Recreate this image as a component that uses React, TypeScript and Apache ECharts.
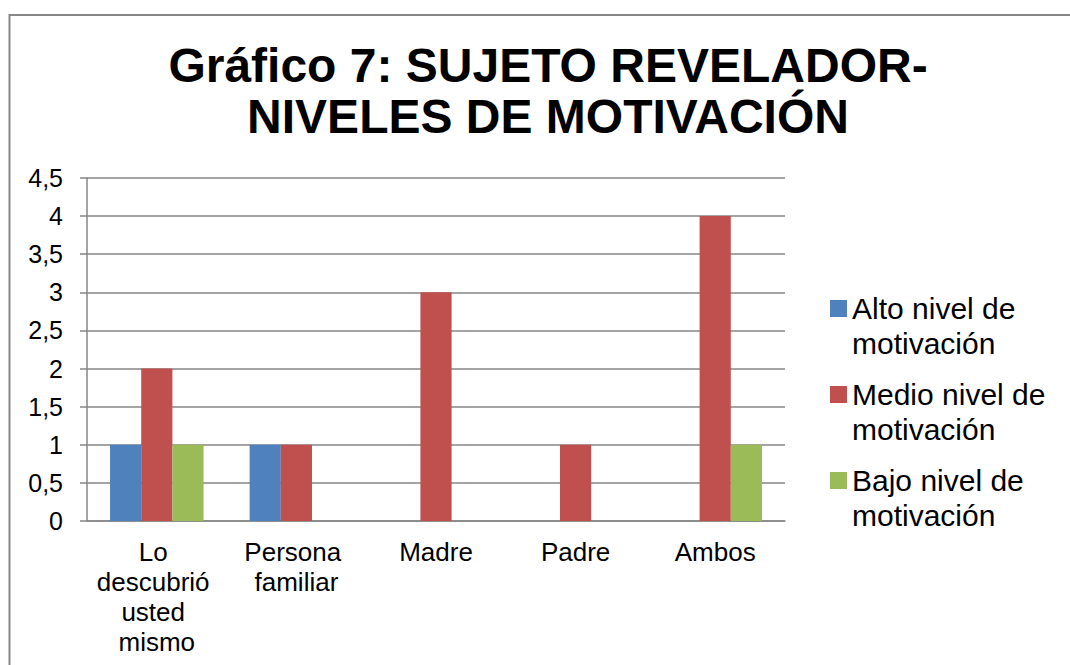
import React, { useEffect, useRef } from "react";
import * as echarts from "echarts";

const titleLines = ["Gráfico 7: SUJETO REVELADOR-", "NIVELES DE MOTIVACIÓN"];
const categories = ["Lo descubrió usted mismo", "Persona familiar", "Madre", "Padre", "Ambos"];
const seriesNames = ["Alto nivel de\nmotivación", "Medio nivel de\nmotivación", "Bajo nivel de\nmotivación"];
const altoValues = [1, 1, 0, 0, 0];
const medioValues = [2, 1, 3, 1, 4];
const bajoValues = [1, 0, 0, 0, 1];
const colors = ["#4F81BD", "#C0504D", "#9BBB59"];

const FONT = "'Liberation Sans', Arial, sans-serif";
const GRID_COLOR = "#868686";

export default function App() {
  const ref = useRef<HTMLDivElement>(null);
  useEffect(() => {
    document.body.style.margin = "0";
    const chart = echarts.init(ref.current!, undefined, { renderer: "svg" });
    const seriesData = [altoValues, medioValues, bajoValues];
    chart.setOption({
      animation: false,
      backgroundColor: "#ffffff",
      textStyle: { fontFamily: FONT },
      title: {
        text: titleLines.join("\n"),
        left: 548,
        top: 40,
        padding: 0,
        textAlign: "center",
        textStyle: {
          fontFamily: FONT,
          fontSize: 48,
          fontWeight: "bold",
          lineHeight: 51,
          color: "#000000",
        },
      },
      graphic: [
        {
          type: "rect",
          shape: { x: 9.5, y: 15, width: 1100, height: 700 },
          style: { fill: "none", stroke: "#878787", lineWidth: 2 },
          silent: true,
        },
      ],
      legend: {
        orient: "vertical",
        left: 830,
        top: 256,
        itemWidth: 17,
        itemHeight: 17,
        itemGap: -19,
        icon: "rect",
        padding: 0,
        formatter: (name: string) => "\n" + name,
        textStyle: {
          fontFamily: FONT,
          fontSize: 30,
          lineHeight: 35,
          color: "#000000",
        },
        data: seriesNames,
      },
      grid: { left: 87, right: 285, top: 178, bottom: 144, containLabel: false },
      xAxis: {
        type: "category",
        data: categories,
        axisLine: { show: true, lineStyle: { color: GRID_COLOR, width: 1.5 } },
        axisTick: { show: false },
        axisLabel: {
          interval: 0,
          color: "#000000",
          fontFamily: FONT,
          fontSize: 26,
          lineHeight: 30,
          margin: 16,
          width: 132,
          overflow: "break",
        },
      },
      yAxis: {
        type: "value",
        min: 0,
        max: 4.5,
        interval: 0.5,
        axisLine: { show: true, lineStyle: { color: GRID_COLOR, width: 1.5 } },
        axisTick: { show: true, length: 7, lineStyle: { color: GRID_COLOR, width: 1.5 } },
        splitLine: { show: true, lineStyle: { color: GRID_COLOR, width: 1.5 } },
        axisLabel: {
          color: "#000000",
          fontFamily: FONT,
          fontSize: 25,
          margin: 24,
          formatter: (v: number) => String(v).replace(".", ","),
        },
      },
      series: seriesNames.map((name, i) => ({
        name,
        type: "bar",
        data: seriesData[i],
        barGap: "0%",
        barCategoryGap: "33%",
        itemStyle: { color: colors[i] },
      })),
    });
    return () => chart.dispose();
  }, []);
  return <div ref={ref} style={{ width: 1070, height: 665 }} />;
}
